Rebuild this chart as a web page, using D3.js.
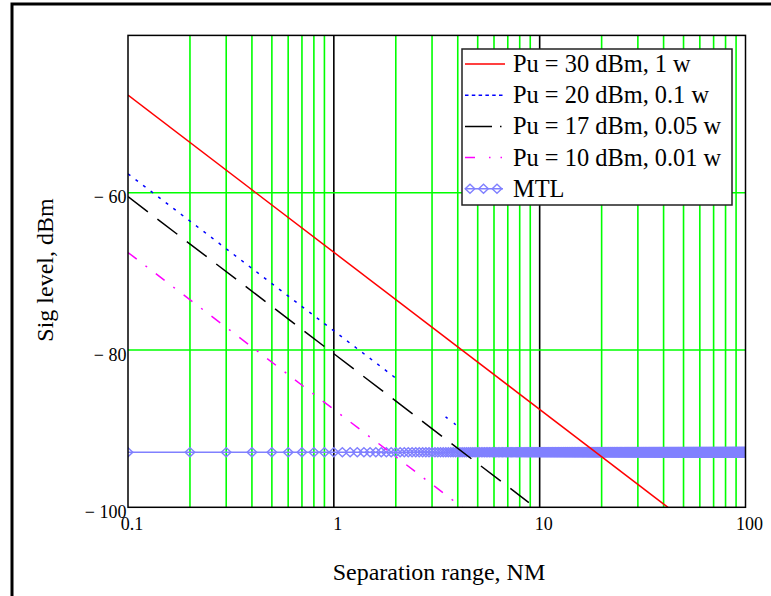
<!DOCTYPE html>
<html><head><meta charset="utf-8">
<script src="https://cdn.jsdelivr.net/npm/d3@7"></script>
<style>
body{margin:0;background:#fff}
svg{display:block}
text{font-family:"Liberation Serif","Times New Roman",serif;fill:#000}
.tick text{font-size:18px}
</style>
</head><body><svg id="c" width="771" height="596"></svg>
<script>
// ---- data ----
const xTicks = [0.1, 1, 10, 100];
const xTickLabels = ["0.1", "1", "10", "100"];
const yTicks = [-60, -80, -100];
const yTickLabels = ["\u2212 60", "\u2212 80", "\u2212 100"];
const seriesNames = ["Pu = 30 dBm, 1 w", "Pu = 20 dBm, 0.1 w", "Pu = 17 dBm, 0.05 w", "Pu = 10 dBm, 0.01 w", "MTL"];
// [separation NM, signal dBm] points (null = gap)
const pu30 = [[0.1, -47.6], [42, -100]];
const pu20 = [[0.1, -57.6], [2.03, -83.7], [null, null], [3.49, -88.5], [3.57, -88.7], [null, null], [3.83, -89.3], [3.91, -89.5]];
const pu17 = [[0.1, -60.5], [8.86, -99.4]];
const pu10 = [[0.1, -67.6], [4.2, -100]];
const mtlLevel = -93;
const mtlRange = d3.range(1, 1001).map(k => k / 10); // range variable 0.1 .. 100 step 0.1
const xTitle = "Separation range, NM";
const yTitle = "Sig level, dBm";

// ---- drawing ----
const svg = d3.select("#c");
const x = d3.scaleLog().domain([0.1, 100]).range([128, 745.5]);
const y = d3.scaleLinear().domain([-100, -40]).range([507.3, 35.4]);

// outer frame
svg.append("rect").attr("x", 12).attr("y", 4).attr("width", 900).attr("height", 800)
  .attr("fill", "none").attr("stroke", "#000").attr("stroke-width", 3);

svg.append("defs").append("clipPath").attr("id", "plotclip").append("rect")
  .attr("x", x(0.1)).attr("y", y(-40)).attr("width", x(100) - x(0.1)).attr("height", y(-100) - y(-40));

const grid = svg.append("g");
const isDecade = v => Math.abs(Math.log10(v) - Math.round(Math.log10(v))) < 1e-9;
x.ticks().filter(v => v > 0.1 && v < 100).forEach(v => {
  grid.append("line").attr("x1", x(v)).attr("x2", x(v)).attr("y1", y(-40)).attr("y2", y(-100))
    .attr("stroke", isDecade(v) ? "#000" : "#00ff00").attr("stroke-width", 1.6);
});
yTicks.filter(v => v > -100).forEach(v => {
  grid.append("line").attr("x1", x(0.1)).attr("x2", x(100)).attr("y1", y(v)).attr("y2", y(v))
    .attr("stroke", "#00ff00").attr("stroke-width", 1.6);
});

const line = d3.line().defined(d => d[0] != null).x(d => x(d[0])).y(d => y(d[1]));
const plot = svg.append("g").attr("clip-path", "url(#plotclip)");

// MTL
const mtl = mtlRange.map(v => [v, mtlLevel]);
const mtlColor = "#8080ff";
plot.append("path").datum(mtl).attr("d", line).attr("fill", "none").attr("stroke", mtlColor).attr("stroke-width", 1.5);
const diamond = (cx, cy) => `M${cx - 4.8},${cy}L${cx},${cy - 4.5}L${cx + 4.8},${cy}L${cx},${cy + 4.5}Z`;
plot.append("g").selectAll("path").data(mtl).join("path")
  .attr("d", d => diamond(x(d[0]), y(d[1])))
  .attr("fill", "none").attr("stroke", mtlColor).attr("stroke-width", 1.4);

const styles = [
  {data: pu30, color: "#ff0000", dash: null, ldash: null},
  {data: pu20, color: "#0000ff", dash: "3,6.5", ldash: "3.5,3.3"},
  {data: pu17, color: "#000000", dash: "25,12", ldash: "27,8,1.5,20"},
  {data: pu10, color: "#ff00ff", dash: "11,11,2,11", ldash: "10,14,1.5,10,1.5,20"}
];
styles.forEach(s => {
  plot.append("path").datum(s.data).attr("d", line).attr("fill", "none")
    .attr("stroke", s.color).attr("stroke-width", 1.5)
    .attr("stroke-dasharray", s.dash);
});

// plot border
svg.append("rect").attr("x", x(0.1)).attr("y", y(-40)).attr("width", x(100) - x(0.1)).attr("height", y(-100) - y(-40))
  .attr("fill", "none").attr("stroke", "#000").attr("stroke-width", 1.5);

// axes labels via d3 axes
const xa = svg.append("g").attr("transform", `translate(0,${y(-100)})`)
  .call(d3.axisBottom(x).tickValues(xTicks).tickSize(0).tickFormat((d, i) => xTickLabels[i]));
xa.select(".domain").remove();
xa.attr("font-family", null).attr("font-size", 18);
xa.selectAll("text").attr("y", 0).attr("dy", null).attr("x", 3.5)
  .attr("transform", "translate(0,22.7)").attr("font-size", 18).attr("fill", "#000");

const ya = svg.append("g").attr("transform", `translate(${x(0.1)},0)`)
  .call(d3.axisLeft(y).tickValues(yTicks).tickSize(0).tickFormat((d, i) => yTickLabels[i]));
ya.select(".domain").remove();
ya.attr("font-family", null).attr("font-size", 18);
ya.selectAll("text").attr("x", -1.5).attr("dy", null).attr("transform", "translate(0,10)")
  .attr("font-size", 18).attr("fill", "#000");

svg.append("text").attr("x", 439).attr("y", 580).attr("text-anchor", "middle")
  .style("font-size", "24px").text(xTitle);
svg.append("text").attr("transform", "translate(52.5,270) rotate(-90)").attr("text-anchor", "middle")
  .style("font-size", "24px").text(yTitle);

// legend
const lg = svg.append("g");
lg.append("rect").attr("x", 462).attr("y", 49).attr("width", 270).attr("height", 156)
  .attr("fill", "#fff").attr("stroke", "#222").attr("stroke-width", 1.5);
const baselines = seriesNames.map((_, i) => 72 + i * 31.2);
seriesNames.forEach((name, i) => {
  lg.append("text").attr("x", 513).attr("y", baselines[i]).style("font-size", "24.4px").text(name);
  const ly = baselines[i] - 8;
  if (i < 4) {
    lg.append("line").attr("x1", 465).attr("x2", 505).attr("y1", ly).attr("y2", ly)
      .attr("stroke", styles[i].color).attr("stroke-width", 1.5).attr("stroke-dasharray", styles[i].ldash);
  } else {
    lg.append("line").attr("x1", 465).attr("x2", 503).attr("y1", ly).attr("y2", ly)
      .attr("stroke", mtlColor).attr("stroke-width", 1.5);
    [470, 483.5, 497].forEach(cx => lg.append("path").attr("d", diamond(cx, ly))
      .attr("fill", "none").attr("stroke", mtlColor).attr("stroke-width", 1.4));
  }
});
</script>
</body></html>
